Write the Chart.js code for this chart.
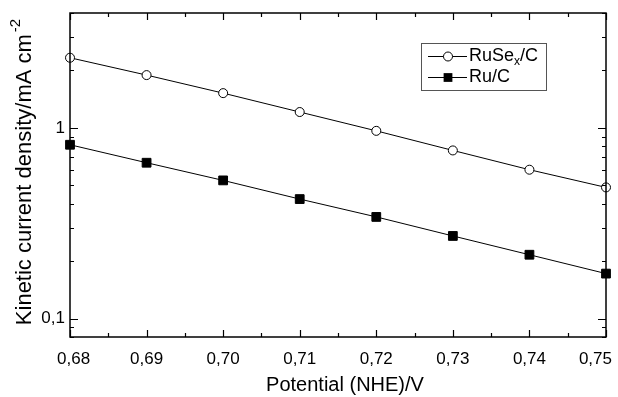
<!DOCTYPE html>
<html>
<head>
<meta charset="utf-8">
<script src="https://cdn.jsdelivr.net/npm/chart.js@4/dist/chart.umd.min.js"></script>
<style>
  html, body { margin: 0; padding: 0; background: #fff; }
  #wrap { width: 618px; height: 397px; }
</style>
</head>
<body>
<div id="wrap"><canvas id="kinetic" width="618" height="397"></canvas></div>
<script>
// values
const potential = [0.68, 0.69, 0.70, 0.71, 0.72, 0.73, 0.74, 0.75];
const ruSeC = [2.33, 1.89, 1.52, 1.21, 0.964, 0.761, 0.603, 0.487];
const ruC = [0.815, 0.656, 0.530, 0.423, 0.341, 0.271, 0.216, 0.172];

const xMajorTicks = [0.68, 0.69, 0.70, 0.71, 0.72, 0.73, 0.74, 0.75];
const xMinorTicks = [0.685, 0.695, 0.705, 0.715, 0.725, 0.735, 0.745];
const yMajorTicks = [0.1, 1];
const yMinorTicks = [0.08, 0.09, 0.2, 0.3, 0.4, 0.5, 0.6, 0.7, 0.8, 0.9, 2, 3, 4];

const FONT = '"Liberation Sans", Arial, Helvetica, sans-serif';
Chart.defaults.font.family = FONT;
Chart.defaults.color = '#000';

const toPts = (ys) => potential.map((x, i) => ({ x: x, y: ys[i] }));
const fmt = (v) => v.toFixed(2).replace('.', ',');

// frame, inward ticks on all four sides, axis titles, x labels, legend
const decorations = {
  id: 'decorations',
  afterDraw(chart) {
    const ctx = chart.ctx;
    const { left, right, top, bottom } = chart.chartArea;
    const xs = chart.scales.x, ys = chart.scales.y;
    ctx.save();
    ctx.strokeStyle = '#000';
    ctx.lineWidth = 1.5;
    ctx.strokeRect(left, top, right - left, bottom - top);

    ctx.lineWidth = 1.2;
    ctx.beginPath();
    const xTick = (v, len) => {
      const px = Math.round(xs.getPixelForValue(v)) + 0.5;
      ctx.moveTo(px, bottom); ctx.lineTo(px, bottom - len);
      ctx.moveTo(px, top); ctx.lineTo(px, top + len);
    };
    const yTick = (v, len) => {
      const py = Math.round(ys.getPixelForValue(v)) + 0.5;
      ctx.moveTo(left, py); ctx.lineTo(left + len, py);
      ctx.moveTo(right, py); ctx.lineTo(right - len, py);
    };
    xMajorTicks.forEach(v => xTick(v, 7));
    xMinorTicks.forEach(v => xTick(v, 4));
    yMajorTicks.forEach(v => yTick(v, 8));
    yMinorTicks.forEach(v => yTick(v, 4));
    ctx.stroke();

    // x tick labels, kept inside the picture at both ends
    ctx.fillStyle = '#000';
    ctx.textBaseline = 'middle';
    ctx.textAlign = 'center';
    ctx.font = '17px ' + FONT;
    xMajorTicks.forEach(v => {
      const t = fmt(v);
      const hw = ctx.measureText(t).width / 2;
      let px = xs.getPixelForValue(v);
      px = Math.min(Math.max(px, 57 + hw), 612 - hw);
      ctx.fillText(t, px, 359);
    });

    // x axis title
    ctx.font = '20px ' + FONT;
    ctx.fillText('Potential (NHE)/V', (left + right) / 2 + 7, 385);

    // y axis title
    const main = 'Kinetic current density/mA cm';
    const sup = '-2';
    ctx.font = '22px ' + FONT;
    const w1 = ctx.measureText(main).width;
    ctx.font = '15px ' + FONT;
    const w2 = ctx.measureText(sup).width;
    const total = w1 + w2 + 2;
    ctx.save();
    ctx.translate(25, (top + bottom) / 2 - 3);
    ctx.rotate(-Math.PI / 2);
    ctx.textAlign = 'left';
    ctx.font = '22px ' + FONT;
    ctx.fillText(main, -total / 2, 0);
    ctx.font = '15px ' + FONT;
    ctx.fillText(sup, -total / 2 + w1 + 2, -9);
    ctx.restore();

    // legend
    ctx.strokeStyle = '#555';
    ctx.lineWidth = 1;
    ctx.strokeRect(421.5, 43.5, 125, 47);
    const rows = [
      { ds: chart.data.datasets[0], y: 56, label: 'RuSe', sub: 'x', tail: '/C' },
      { ds: chart.data.datasets[1], y: 77, label: 'Ru/C' }
    ];
    rows.forEach(r => {
      ctx.strokeStyle = '#000';
      ctx.lineWidth = 1;
      ctx.beginPath();
      ctx.moveTo(428, r.y + 0.5); ctx.lineTo(467, r.y + 0.5);
      ctx.stroke();
      ctx.fillStyle = r.ds.pointBackgroundColor;
      if (r.ds.pointStyle === 'circle') {
        ctx.beginPath();
        ctx.arc(448, r.y + 0.5, r.ds.pointRadius, 0, Math.PI * 2);
        ctx.fill(); ctx.stroke();
      } else {
        const s = r.ds.pointRadius * Math.SQRT1_2;
        ctx.fillRect(448 - s, r.y + 0.5 - s, 2 * s, 2 * s);
      }
      ctx.fillStyle = '#000';
      ctx.textBaseline = 'middle';
      ctx.textAlign = 'left';
      ctx.font = '18px ' + FONT;
      ctx.fillText(r.label, 469, r.y);
      if (r.sub) {
        const w = ctx.measureText(r.label).width;
        ctx.font = '12px ' + FONT;
        ctx.fillText(r.sub, 469 + w, r.y + 6);
        const ws = ctx.measureText(r.sub).width;
        ctx.font = '18px ' + FONT;
        ctx.fillText(r.tail, 469 + w + ws, r.y);
      }
    });
    ctx.restore();
  }
};

new Chart(document.getElementById('kinetic'), {
  type: 'line',
  data: {
    datasets: [
      {
        label: 'RuSex/C',
        data: toPts(ruSeC),
        borderColor: '#000',
        borderWidth: 1,
        pointStyle: 'circle',
        pointRadius: 4.5,
        pointBackgroundColor: '#fff',
        pointBorderColor: '#000',
        pointBorderWidth: 1,
        clip: false
      },
      {
        label: 'Ru/C',
        data: toPts(ruC),
        borderColor: '#000',
        borderWidth: 1,
        pointStyle: 'rect',
        pointRadius: 6.2,
        pointBackgroundColor: '#000',
        pointBorderColor: '#000',
        pointBorderWidth: 1,
        clip: false
      }
    ]
  },
  options: {
    responsive: false,
    animation: false,
    events: [],
    layout: { padding: { top: 13, right: 12, left: 0, bottom: 0 } },
    plugins: { legend: { display: false }, tooltip: { enabled: false } },
    scales: {
      x: {
        type: 'linear',
        min: 0.68,
        max: 0.75,
        grid: { display: false, drawTicks: false },
        border: { display: false },
        afterBuildTicks: s => { s.ticks = xMajorTicks.map(v => ({ value: v })); },
        afterFit: s => { s.height = 60; s.paddingLeft = 0; s.paddingRight = 0; },
        ticks: { display: false }
      },
      y: {
        type: 'logarithmic',
        min: 0.08,
        max: 4,
        grid: { display: false, drawTicks: false },
        border: { display: false },
        afterBuildTicks: s => { s.ticks = yMajorTicks.map(v => ({ value: v })); },
        afterFit: s => { s.width = 70; s.paddingTop = 0; s.paddingBottom = 0; },
        ticks: {
          font: { size: 17 },
          padding: 5,
          autoSkip: false,
          callback: v => String(v).replace('.', ',')
        }
      }
    }
  },
  plugins: [decorations]
});
</script>
</body>
</html>
